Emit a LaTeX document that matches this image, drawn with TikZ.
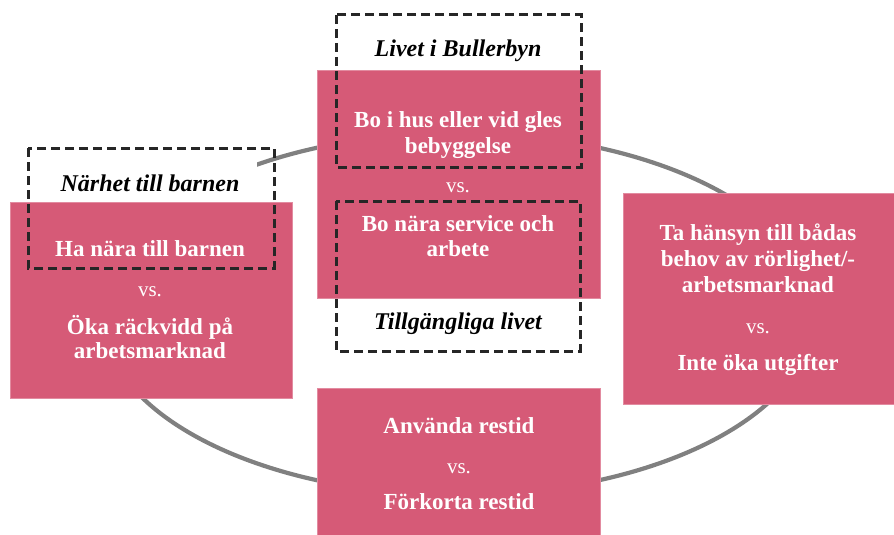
\documentclass[tikz,border=0pt]{standalone}
\usepackage{fontspec}
\setmainfont{Liberation Serif}
\definecolor{rosa}{RGB}{214,90,119}
\definecolor{ringgray}{RGB}{128,128,128}
\definecolor{dashgray}{RGB}{38,38,38}
\tikzset{
  pinkbox/.style={draw=rosa!70!white, line width=0.6pt, fill=rosa, inner sep=0pt},
  dashbox/.style={draw=dashgray, line width=3pt, dash pattern=on 9pt off 5pt, inner sep=0pt},
  wtext/.style={text=white, font=\fontsize{23}{26}\selectfont\bfseries, anchor=base, inner sep=0pt},
  vstext/.style={text=white, font=\fontsize{21}{24}\selectfont, anchor=base, inner sep=0pt},
  ktext/.style={text=black, font=\fontsize{24}{26}\selectfont\bfseries\itshape, anchor=base, inner sep=0pt}
}
\begin{document}
\begin{tikzpicture}[x=1pt,y=-1pt]
\useasboundingbox (0,0) rectangle (894,535);
% ring
\draw[ringgray, line width=4.2pt] (458,314) ellipse [x radius=356, y radius=181];
% white label patch hiding the ring behind the left caption
\fill[white] (30,150) rectangle (257,202);
% pink boxes
\path[pinkbox] (10,202) rectangle (292,398);
\path[pinkbox] (317,70) rectangle (600,298);
\path[pinkbox] (623,193) rectangle (894,404);
\path[pinkbox] (317,388) rectangle (600,536);
% dashed frames
\draw[dashbox] (336,15) rectangle (581,167);
\draw[dashbox] (336,201) rectangle (580,351);
\draw[dashbox] (28,148) rectangle (274,268);
% texts: top center
\node[ktext] (t1) at (458,57) {Livet i Bullerbyn};
\node[wtext] (t2) at (458,127) {Bo i hus eller vid gles};
\node[wtext] (t3) at (458,153) {bebyggelse};
\node[vstext] (t4) at (458,192) {vs.};
\node[wtext] (t5) at (458,231) {Bo nära service och};
\node[wtext] (t6) at (458,256) {arbete};
\node[ktext] (t7) at (458,329) {Tillgängliga livet};
% left
\node[ktext] (l1) at (150,191) {Närhet till barnen};
\node[wtext] (l2) at (150,256) {Ha nära till barnen};
\node[vstext] (l3) at (150,296) {vs.};
\node[wtext] (l4) at (150,334) {Öka räckvidd på};
\node[wtext] (l5) at (150,358) {arbetsmarknad};
% right
\node[wtext] (r1) at (758,240) {Ta hänsyn till bådas};
\node[wtext] (r2) at (758,266) {behov av rörlighet/-};
\node[wtext] (r3) at (758,292) {arbetsmarknad};
\node[vstext] (r4) at (758,333) {vs.};
\node[wtext] (r5) at (758,370) {Inte öka utgifter};
% bottom
\node[wtext] (b1) at (459,433) {Använda restid};
\node[vstext] (b2) at (459,473) {vs.};
\node[wtext] (b3) at (459,509) {Förkorta restid};
\end{tikzpicture}
\end{document}
